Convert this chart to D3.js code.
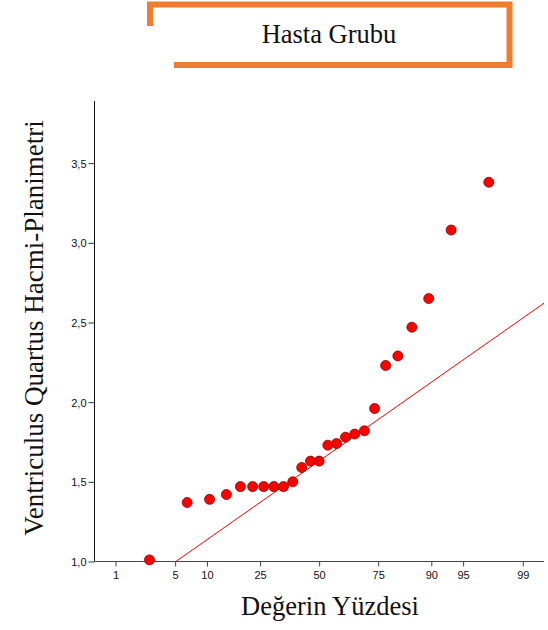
<!DOCTYPE html>
<html>
<head>
<meta charset="utf-8">
<script src="https://cdn.jsdelivr.net/npm/d3@7"></script>
<style>
  html, body { margin: 0; padding: 0; background: #fff; }
  svg { display: block; }
</style>
</head>
<body>
<svg id="chart" width="548" height="630"></svg>
<script>
// ---- Data ----
const title = "Hasta Grubu";
const xLabel = "Değerin Yüzdesi";
const yLabel = "Ventriculus Quartus Hacmi-Planimetri";

// plotting positions (cumulative percent) of the 25 ordered observations
const percentiles = [2.63, 6.58, 10.53, 14.47, 18.42, 22.37, 26.32, 30.26, 34.21, 38.16,
                     42.11, 46.05, 50.00, 53.95, 57.89, 61.84, 65.79, 69.74, 73.68, 77.63,
                     81.58, 85.53, 89.47, 93.42, 97.37];
const values = [1.01, 1.37, 1.39, 1.42, 1.47, 1.47, 1.47, 1.47, 1.47, 1.50,
                1.59, 1.63, 1.63, 1.73, 1.74, 1.78, 1.80, 1.82, 1.96, 2.23,
                2.29, 2.47, 2.65, 3.08, 3.38];

const xTicks = [1, 5, 10, 25, 50, 75, 90, 95, 99];
const yTicks = [1.0, 1.5, 2.0, 2.5, 3.0, 3.5];

// reference line: value at 50th percentile and change per standard normal unit
const refCenter = 1.631;
const refSlope = 0.3855;

const xDomainPct = [0.514, 99.49];
const yDomain = [1.0, 3.89];

// ---- inverse normal CDF (Acklam) ----
function probit(p) {
  const a = [-3.969683028665376e+01, 2.209460984245205e+02, -2.759285104469687e+02,
             1.383577518672690e+02, -3.066479806614716e+01, 2.506628277459239e+00];
  const b = [-5.447609879822406e+01, 1.615858368580409e+02, -1.556989798598866e+02,
             6.680131188771972e+01, -1.328068155288572e+01];
  const c = [-7.784894002430293e-03, -3.223964580411365e-01, -2.400758277161838e+00,
             -2.549732539343734e+00, 4.374664141464968e+00, 2.938163982698783e+00];
  const d = [7.784695709041462e-03, 3.224671290700398e-01, 2.445134137142996e+00,
             3.754408661907416e+00];
  const pl = 0.02425, ph = 1 - pl;
  let q, r;
  if (p < pl) {
    q = Math.sqrt(-2 * Math.log(p));
    return (((((c[0]*q+c[1])*q+c[2])*q+c[3])*q+c[4])*q+c[5]) / ((((d[0]*q+d[1])*q+d[2])*q+d[3])*q+1);
  } else if (p <= ph) {
    q = p - 0.5; r = q*q;
    return (((((a[0]*r+a[1])*r+a[2])*r+a[3])*r+a[4])*r+a[5])*q / (((((b[0]*r+b[1])*r+b[2])*r+b[3])*r+b[4])*r+1);
  } else {
    q = Math.sqrt(-2 * Math.log(1 - p));
    return -(((((c[0]*q+c[1])*q+c[2])*q+c[3])*q+c[4])*q+c[5]) / ((((d[0]*q+d[1])*q+d[2])*q+d[3])*q+1);
  }
}
const z = pct => probit(pct / 100);

// ---- Layout ----
const svg = d3.select("#chart");
const plot = { left: 94.5, right: 544, top: 101, bottom: 561.5 };

const xz = d3.scaleLinear()
  .domain([z(xDomainPct[0]), z(xDomainPct[1])])
  .range([plot.left, plot.right]);
const x = pct => xz(z(pct));
const y = d3.scaleLinear().domain(yDomain).range([plot.bottom, plot.top]);

// ---- Title box ----
svg.append("path")
  .attr("d", "M150,26 V4.5 H509.5 V65 H174")
  .attr("fill", "none")
  .attr("stroke", "#ED7D31")
  .attr("stroke-width", 6)
  .attr("stroke-linejoin", "miter");
svg.append("text")
  .attr("x", 329).attr("y", 43)
  .attr("text-anchor", "middle")
  .attr("font-family", "'Liberation Serif', 'Times New Roman', serif")
  .attr("font-size", 26.5)
  .attr("fill", "#111")
  .text(title);

// ---- Clip ----
svg.append("clipPath").attr("id", "plotClip")
  .append("rect")
  .attr("x", plot.left).attr("y", plot.top)
  .attr("width", plot.right - plot.left).attr("height", plot.bottom - plot.top);

// ---- Reference line ----
const zMin = xz.domain()[0], zMax = xz.domain()[1];
svg.append("line")
  .attr("clip-path", "url(#plotClip)")
  .attr("x1", xz(zMin)).attr("y1", y(refCenter + refSlope * zMin))
  .attr("x2", xz(zMax)).attr("y2", y(refCenter + refSlope * zMax))
  .attr("stroke", "#FF0000")
  .attr("stroke-width", 1);

// ---- Axes ----
const fmt = d => d3.format(".1f")(d).replace(".", ",");
const yAxis = d3.axisLeft(y).tickValues(yTicks).tickFormat(fmt).tickSize(6).tickSizeOuter(0);
const gy = svg.append("g").attr("transform", `translate(${plot.left},0)`).call(yAxis);
gy.select(".domain").attr("stroke", "#111").attr("d", `M0,${plot.top}V${plot.bottom}`);
gy.selectAll(".tick line").attr("stroke", "#333");
gy.selectAll(".tick text")
  .attr("font-family", "'Liberation Sans', Arial, sans-serif")
  .attr("font-size", 11).attr("fill", "#111").attr("x", -8).attr("dy", "0.36em");

const xAxis = d3.axisBottom(xz).tickValues(xTicks.map(z))
  .tickFormat((d, i) => xTicks[i]).tickSize(5).tickSizeOuter(0);
const gx = svg.append("g").attr("transform", `translate(0,${plot.bottom})`).call(xAxis);
gx.select(".domain").attr("stroke", "#444").attr("d", `M${plot.left},0H${plot.right}`);
gx.selectAll(".tick line").attr("stroke", "#444");
gx.selectAll(".tick text")
  .attr("font-family", "'Liberation Sans', Arial, sans-serif")
  .attr("font-size", 11).attr("fill", "#111").attr("y", 10);

// ---- Points ----
const pts = percentiles.map((p, i) => ({ p, v: values[i] }));
svg.append("g").selectAll("circle").data(pts).join("circle")
  .attr("cx", d => x(d.p))
  .attr("cy", d => y(d.v))
  .attr("r", 5)
  .attr("fill", "#FF0000")
  .attr("stroke", "#8B0000")
  .attr("stroke-width", 0.8);

// ---- Axis titles ----
svg.append("text")
  .attr("x", 330).attr("y", 615)
  .attr("text-anchor", "middle")
  .attr("font-family", "'Liberation Serif', 'Times New Roman', serif")
  .attr("font-size", 26.5)
  .attr("fill", "#111")
  .text(xLabel);
svg.append("text")
  .attr("transform", "translate(43,328) rotate(-90)")
  .attr("text-anchor", "middle")
  .attr("font-family", "'Liberation Serif', 'Times New Roman', serif")
  .attr("font-size", 27)
  .attr("fill", "#111")
  .text(yLabel);
</script>
</body>
</html>
